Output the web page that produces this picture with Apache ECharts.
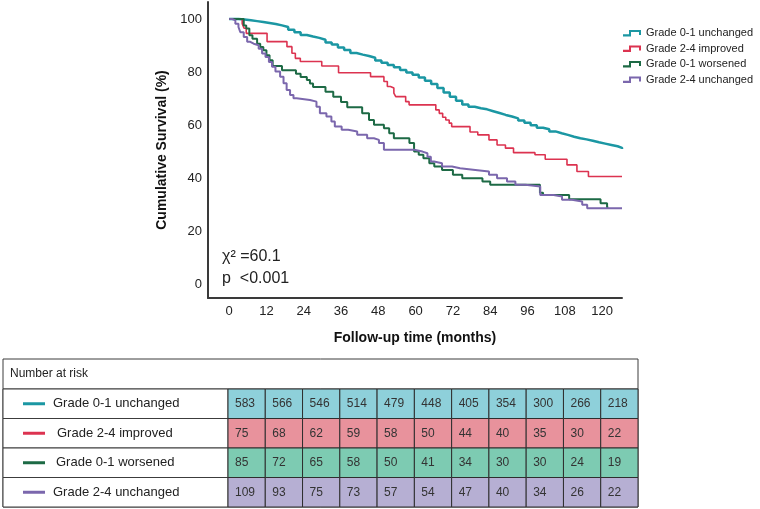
<!DOCTYPE html>
<html>
<head>
<meta charset="utf-8">
<script src="https://cdn.jsdelivr.net/npm/echarts@6.0.0/dist/echarts.min.js"></script>
<style>
html,body{margin:0;padding:0;background:#fff;}
#chart{width:760px;height:509px;}
</style>
</head>
<body>
<div id="chart"></div>
<script>
// ---------- DATA ----------
const seriesNames = ['Grade 0-1 unchanged', 'Grade 2-4 improved', 'Grade 0-1 worsened', 'Grade 2-4 unchanged'];
const xTicks = [0, 12, 24, 36, 48, 60, 72, 84, 96, 108, 120];
const yTicks = [0, 20, 40, 60, 80, 100];
const riskTimes = ['0', '12', '24', '36', '48', '60', '72', '84', '96', '108', '120'];

// [month, cumulative survival %]
const survG01Unchanged = [[0,100],[3,99.8],[5,99.5],[7,99.2],[9,98.9],[11,98.5],[13,98.1],[15,97.6],[17,97],[19,96],[21,95],[23,94],[25,93.4],[27,92.9],[29,92.2],[31,91.2],[33,90.4],[35,89.3],[37,88.3],[39,87.2],[41,86.6],[43,86.1],[45,85.4],[47,84.4],[49,83.5],[51,82.7],[53,81.8],[55,80.8],[57,79.9],[59,79],[61,78],[63,76.8],[65,75.5],[67,74],[69,72.3],[71,70.7],[73,69.2],[75,67.8],[77,67],[79,66.4],[81,66],[83,65.3],[85,64.6],[87,63.9],[89,63.3],[91,62.6],[93,61.8],[95,61],[97,60],[99,59.1],[101,58.5],[103,57.7],[105,57],[107,56.4],[109,55.7],[111,55.1],[113,54.7],[115,54.2],[117,53.6],[119,53.1],[121,52.6],[123,52.1],[125,51.5],[126.4,51.1]];
const survG24Improved = [[0,100],[4.2,98.2],[4.8,96.5],[5.5,94.6],[12.2,91.5],[18.6,89.6],[20.2,87.1],[21.3,85.2],[22.9,84],[29.8,82.3],[35.2,79.8],[45.5,78.3],[49.8,76.5],[50.9,74.6],[51.9,74],[53,72.1],[53.6,70.8],[56.8,68.9],[57.9,67.7],[66.5,65.8],[67.6,64.5],[68.7,63],[69.7,62],[70.8,60.8],[71.6,59.5],[77.5,57.5],[80,56.4],[83.6,54.5],[86.2,52.6],[88.9,51.4],[91.5,49.7],[98.4,48.9],[101.7,47.2],[108.7,45.1],[111.9,42.6],[115.6,40.7],[126.4,40.7]];
const survG01Worsened = [[0,100],[4.7,97.6],[5.5,96.4],[6.5,93.9],[7.5,92.6],[9,90.7],[10,89.5],[11,88.2],[12,86.4],[13,84.5],[14,82.3],[17,80.7],[21.5,79.4],[23,78.2],[25,77],[26,75.7],[27,74.4],[31,72.6],[33.5,70.7],[36,68.8],[38,66.8],[42.8,64.5],[45,62],[46.6,60.2],[49.8,58.9],[51.5,57],[53,55.1],[58,53.3],[59.5,50.1],[61,48.9],[62.5,47.6],[64.4,45.7],[66,44.5],[68.5,43.2],[72,41.4],[75,40.1],[81.5,38.8],[84,37.6],[100,34.6],[101,33.8],[109.4,32.2],[119.5,30.7],[121.6,29.1],[122,29.1]];
const survG24Unchanged = [[0,100],[1,99.5],[2,98.2],[3,97],[3.6,95],[4.7,93.2],[5.8,91.4],[6.8,90.7],[7.9,90.1],[9.5,88.8],[10.6,87],[11.7,85.7],[12.8,83.8],[13.8,82],[14.9,80.2],[16.4,78.3],[17.5,75.8],[18.5,73.3],[19.6,71.4],[20.7,70.2],[21.7,69.5],[26,68.9],[28.1,67],[29.2,64.5],[31.3,63.3],[32.9,61.4],[34,59.5],[36.2,58.3],[38.3,57.7],[41.2,56.4],[44.4,55.1],[46.6,54.5],[48.2,53.3],[49.8,50.8],[59.5,50.1],[62.2,49.5],[63.8,48.2],[64.9,46.4],[65.9,45.7],[68.5,44.5],[71.7,43.8],[74.3,43.2],[79.2,42.6],[83.6,41.4],[86.2,40.1],[89.4,38.8],[92.1,37.6],[95.3,37],[100.1,33.8],[104.4,33.2],[107.1,32],[110.3,31.3],[113.6,30.1],[115.2,28.8],[126.4,28.8]];

// numbers at risk
const riskG01Unchanged = [583, 566, 546, 514, 479, 448, 405, 354, 300, 266, 218];
const riskG24Improved  = [75, 68, 62, 59, 58, 50, 44, 40, 35, 30, 22];
const riskG01Worsened  = [85, 72, 65, 58, 50, 41, 34, 30, 30, 24, 19];
const riskG24Unchanged = [109, 93, 75, 73, 57, 54, 47, 40, 34, 26, 22];

const statLines = ['χ² =60.1', 'p  <0.001'];
const tableTitle = 'Number at risk';
const xName = 'Follow-up time (months)';
const yName = 'Cumulative Survival (%)';

// ---------- STYLE / LAYOUT ----------
const lineColors = ['#1b97a3', '#dc3350', '#1d6a45', '#7b67ad'];
const lineWidths = [2.5, 1.6, 2, 2];
const cellColors = ['#8ed0da', '#e8929c', '#7dcbb2', '#b6afd3'];
const FONT = '"Liberation Sans", Arial, sans-serif';
const survData = [survG01Unchanged, survG24Improved, survG01Worsened, survG24Unchanged];
const riskData = [riskG01Unchanged, riskG24Improved, riskG01Worsened, riskG24Unchanged];

const tbl = { left: 3, right: 638, top: 359, headerBottom: 389, bottom: 507, labelRight: 228 };
const rowH = (tbl.bottom - tbl.headerBottom) / 4;
const labelOffsets = [53, 57, 56, 53];

const legendIcon = 'path://M0,4.4 L6,4.4 L6,0 L18,0 L18,5 L16,5 L16,2 L8,2 L8,6.6 L0,6.6 Z';

const cells = [];
riskData.forEach((row, r) => row.forEach((v, c) => cells.push([c, r, v])));

const graphics = [];
graphics.push({ type: 'rect', shape: { x: tbl.left, y: tbl.top, width: tbl.right - tbl.left, height: tbl.bottom - tbl.top }, style: { fill: '#fff', stroke: '#3c3c3c', lineWidth: 1 }, z: -1 });
graphics.push({ type: 'line', shape: { x1: tbl.left, y1: tbl.headerBottom, x2: tbl.right, y2: tbl.headerBottom }, style: { stroke: '#3c3c3c', lineWidth: 1 } });
graphics.push({ type: 'text', x: 10, y: (tbl.top + tbl.headerBottom) / 2, style: { text: tableTitle, font: '12px ' + FONT, fill: '#222', verticalAlign: 'middle' } });
seriesNames.forEach((name, i) => {
  const y0 = tbl.headerBottom + i * rowH;
  graphics.push({ type: 'rect', shape: { x: tbl.left, y: y0, width: tbl.labelRight - tbl.left, height: rowH }, style: { fill: '#fff', stroke: '#3c3c3c', lineWidth: 1 } });
  graphics.push({ type: 'line', shape: { x1: 23, y1: y0 + rowH / 2, x2: 45, y2: y0 + rowH / 2 }, style: { stroke: lineColors[i], lineWidth: 3 } });
  graphics.push({ type: 'text', x: labelOffsets[i], y: y0 + rowH / 2, style: { text: name, font: '13px ' + FONT, fill: '#222', verticalAlign: 'middle' } });
});
statLines.forEach((t, i) => {
  graphics.push({ type: 'text', x: 222, y: 257 + i * 22, style: { text: t, font: '16px ' + FONT, fill: '#222', verticalAlign: 'middle' } });
});

const chart = echarts.init(document.getElementById('chart'), null, { renderer: 'canvas' });
chart.setOption({
  animation: false,
  backgroundColor: '#fff',
  textStyle: { fontFamily: FONT },
  legend: {
    orient: 'vertical', left: 623, top: 27, padding: 0, itemWidth: 18, itemHeight: 8, itemGap: 3,
    textStyle: { fontSize: 11, color: '#222', fontFamily: FONT, lineHeight: 12.5 },
    data: seriesNames.map(n => ({ name: n, icon: legendIcon }))
  },
  grid: [
    { left: 208, right: 138, top: 2, bottom: 211, containLabel: false },
    { left: tbl.labelRight, width: tbl.right - tbl.labelRight, top: tbl.headerBottom, height: tbl.bottom - tbl.headerBottom }
  ],
  xAxis: [
    {
      type: 'value', gridIndex: 0, min: -6.8, max: 126.4,
      splitLine: { show: false }, axisTick: { show: false },
      axisLine: { show: true, onZero: false, lineStyle: { color: '#3a3a3a', width: 2 } },
      axisLabel: { customValues: xTicks, fontSize: 13, color: '#222', margin: 7 },
      name: xName, nameLocation: 'middle', nameGap: 33,
      nameTextStyle: { fontSize: 14, fontWeight: 'bold', color: '#111' }
    },
    { type: 'category', gridIndex: 1, data: riskTimes, show: false }
  ],
  yAxis: [
    {
      type: 'value', gridIndex: 0, min: -5, max: 106.4,
      splitLine: { show: false }, axisTick: { show: false },
      axisLine: { show: true, onZero: false, lineStyle: { color: '#3a3a3a', width: 2 } },
      axisLabel: { customValues: yTicks, fontSize: 13, color: '#222', margin: 6 },
      name: yName, nameLocation: 'middle', nameGap: 38,
      nameTextStyle: { fontSize: 14, fontWeight: 'bold', color: '#111' }
    },
    { type: 'category', gridIndex: 1, data: seriesNames, inverse: true, show: false }
  ],
  graphic: graphics,
  series: seriesNames.map((n, i) => ({
    name: n, type: 'line', step: 'end', data: survData[i], showSymbol: false, symbol: 'none',
    xAxisIndex: 0, yAxisIndex: 0,
    lineStyle: { color: lineColors[i], width: lineWidths[i] }, itemStyle: { color: lineColors[i] }
  })).concat([{
    type: 'custom', xAxisIndex: 1, yAxisIndex: 1, data: cells,
    renderItem: function (params, api) {
      const c = api.value(0), r = api.value(1);
      const p = api.coord([c, r]);
      const s = api.size([1, 1]);
      return {
        type: 'group',
        children: [
          { type: 'rect', shape: { x: p[0] - s[0] / 2, y: p[1] - s[1] / 2, width: s[0], height: s[1] }, style: { fill: cellColors[r], stroke: '#2e2e2e', lineWidth: 1 } },
          { type: 'text', style: { text: String(api.value(2)), x: p[0] - s[0] / 2 + 7, y: p[1], verticalAlign: 'middle', fill: '#333', font: '12px ' + FONT } }
        ]
      };
    }
  }])
});
</script>
</body>
</html>
